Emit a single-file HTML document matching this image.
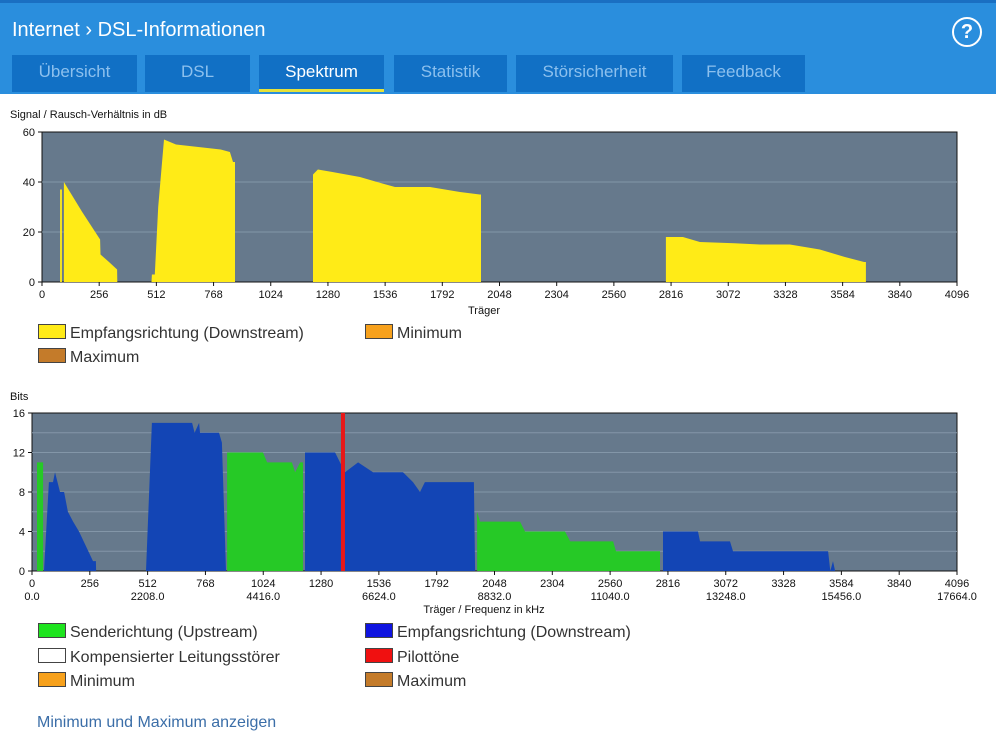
<!DOCTYPE html>
<html><head><meta charset="utf-8">
<style>
body{margin:0;width:996px;height:736px;overflow:hidden;background:#fff;font-family:"Liberation Sans",sans-serif;position:relative}
.hdr{position:absolute;left:0;top:0;width:996px;height:94px;background:#2a8edd;border-top:3px solid #1a6fc2;box-sizing:border-box}
.title{position:absolute;left:12px;top:16px;color:#fff;font-size:20px}
.tab{position:absolute;top:55px;height:37px;background:#1170c5;color:#8cc0ee;font-size:17px;text-align:center;line-height:33px}
.tab.act{color:#fff;border-bottom:3px solid #e6e23a;box-sizing:border-box}
.help{position:absolute;left:952px;top:14px;width:26px;height:26px;border:2px solid #fff;border-radius:50%;color:#fff;font-weight:bold;font-size:20px;text-align:center;line-height:26px}
.lbl{position:absolute;font-size:11px;color:#111}
.leg{position:absolute;font-size:16px;color:#333}
.leg span{display:inline-block;width:26px;height:13px;border:1px solid #444;vertical-align:-1px;margin-right:4px}
.link{position:absolute;left:37px;top:714px;font-size:16px;color:#3b6ea8}
</style></head><body>
<div class="hdr">
<div class="title">Internet ›&nbsp;DSL-Informationen</div>
<div class="help">?</div>
</div>
<div class="tab" style="left:12px;width:125px">Übersicht</div>
<div class="tab" style="left:145px;width:105px">DSL</div>
<div class="tab act" style="left:259px;width:125px">Spektrum</div>
<div class="tab" style="left:394px;width:113px">Statistik</div>
<div class="tab" style="left:516px;width:157px">Störsicherheit</div>
<div class="tab" style="left:682px;width:123px">Feedback</div>

<div class="lbl" style="left:10px;top:109px">Signal / Rausch-Verhältnis in dB</div>
<div class="lbl" style="left:10px;top:391px">Bits</div>
<svg id="c" width="996" height="736" style="position:absolute;left:0;top:0"></svg>

<div class="leg" style="left:38px;top:324px"><span style="background:#ffeb17"></span>Empfangsrichtung (Downstream)</div>
<div class="leg" style="left:365px;top:324px"><span style="background:#f7a11c"></span>Minimum</div>
<div class="leg" style="left:38px;top:348px"><span style="background:#c47b2a"></span>Maximum</div>

<div class="leg" style="left:38px;top:623px"><span style="background:#1ee41e"></span>Senderichtung (Upstream)</div>
<div class="leg" style="left:365px;top:623px"><span style="background:#0f14e0"></span>Empfangsrichtung (Downstream)</div>
<div class="leg" style="left:38px;top:648px"><span style="background:#fff"></span>Kompensierter Leitungsstörer</div>
<div class="leg" style="left:365px;top:648px"><span style="background:#f01010"></span>Pilottöne</div>
<div class="leg" style="left:38px;top:672px"><span style="background:#f7a11c"></span>Minimum</div>
<div class="leg" style="left:365px;top:672px"><span style="background:#c47b2a"></span>Maximum</div>
<div class="link">Minimum und Maximum anzeigen</div>

<script>
const carrierTicks=[0,256,512,768,1024,1280,1536,1792,2048,2304,2560,2816,3072,3328,3584,3840,4096];
const freqTicks=["0.0","2208.0","4416.0","6624.0","8832.0","11040.0","13248.0","15456.0","17664.0"];
const snrTicks=[0,20,40,60];
const bitsTicks=[0,4,8,12,16];
const snrCarriers=[81,81,89,89,98,98,180,260,262,300,336,337, 490,492,505,520,546,600,700,800,841,855,864,864, 1213,1213,1235,1300,1423,1500,1580,1737,1871,1960,1965,1965, 2793,2793,2869,2945,3100,3214,3348,3482,3594,3680,3688,3688];
const snrValues=[0,37,37,0,0,40,28,17,11,8,5,0, 0,3,3,30,57,55,54,53,52,48,48,0, 0,43,45,44,42,40,38,38,36,35,35,0, 0,18,18,16,15.5,15,15,13,10,8,8,0];
const upCarriers=[22,22,49,49, 864,864,1023,1041,1151,1165,1187,1200,1200, 1971,1971,1984,2161,2183,2360,2383,2573,2586,2781,2781];
const upValues=[0,11,11,0, 0,12,12,11,11,10,11,11,0, 0,6,5,5,4,4,3,3,2,2,0];
const downCarriers=[53,75,93,102,124,142,159,182,208,270,283,284, 505,531,709,720,740,744,828,841,859, 1209,1209,1342,1364,1386,1444,1510,1643,1687,1718,1740,1957,1962, 2794,2794,2949,2958,3091,3104,3525,3535,3547,3556];
const downValues=[0,9,9,10,8,8,6,5,4,1,1,0, 0,15,15,14,15,14,14,13,0, 0,12,12,11,10,11,10,10,9,8,9,9,0, 0,4,4,3,3,2,2,0,1,0];
const pilotCarriers=[1377];

const svg=document.getElementById('c');
const NS='http://www.w3.org/2000/svg';
function mk(t,a){const e=document.createElementNS(NS,t);for(const k in a)e.setAttribute(k,a[k]);svg.appendChild(e);return e;}
function chart(x0,x1,y0,y1,maxY,ticksY,gridStep){
  const sx=c=>x0+(c/4096)*(x1-x0), sy=v=>y1-(v/maxY)*(y1-y0);
  const bg=mk('rect',{x:x0,y:y0,width:x1-x0,height:y1-y0,fill:'#66798c',stroke:'#111','stroke-width':1});
  
  
  for(let v=gridStep;v<maxY;v+=gridStep){mk('line',{x1:x0,x2:x1,y1:sy(v),y2:sy(v),stroke:'#8396a8','stroke-width':1});}
  ticksY.forEach(v=>{mk('line',{x1:x0-4,x2:x0,y1:sy(v),y2:sy(v),stroke:'#111'});
    const t=mk('text',{x:x0-7,y:sy(v)+4,'text-anchor':'end','font-size':11,fill:'#111'});t.textContent=v;
    
    });
  carrierTicks.forEach(c=>{mk('line',{x1:sx(c),x2:sx(c),y1:y1,y2:y1+4,stroke:'#111'});
    const t=mk('text',{x:sx(c),y:y1+16,'text-anchor':'middle','font-size':11,fill:'#111'});t.textContent=c;
    
    });
  return {sx,sy};
}
function area(ax,xs,ys,fill,name){
  let d='';
  for(let i=0;i<xs.length;i++){d+=(i?'L':'M')+ax.sx(xs[i]).toFixed(1)+','+ax.sy(ys[i]).toFixed(1);}
  const p=mk('path',{d:d+'Z',fill:fill});
  
  
}
const a1=chart(42,957,132,282,60,snrTicks,20);
area(a1,snrCarriers,snrValues,'#ffeb17','snr-downstream-area');
const a2=chart(32,957,413,571,16,bitsTicks,2);
area(a2,upCarriers,upValues,'#26c926','upstream-bits-area');
area(a2,downCarriers,downValues,'#1345b5','downstream-bits-area');
pilotCarriers.forEach(c=>{const r=mk('rect',{x:a2.sx(c)-2,y:413,width:4,height:158,fill:'#e81818'});
  
  });
freqTicks.forEach((f,i)=>{const t=mk('text',{x:a2.sx(i*512),y:571+29,'text-anchor':'middle','font-size':11,fill:'#111'});t.textContent=f;
  
  });
let t=mk('text',{x:484,y:314,'text-anchor':'middle','font-size':11,fill:'#111'});t.textContent='Träger';


t=mk('text',{x:484,y:613,'text-anchor':'middle','font-size':11,fill:'#111'});t.textContent='Träger / Frequenz in kHz';


</script>
</body></html>
